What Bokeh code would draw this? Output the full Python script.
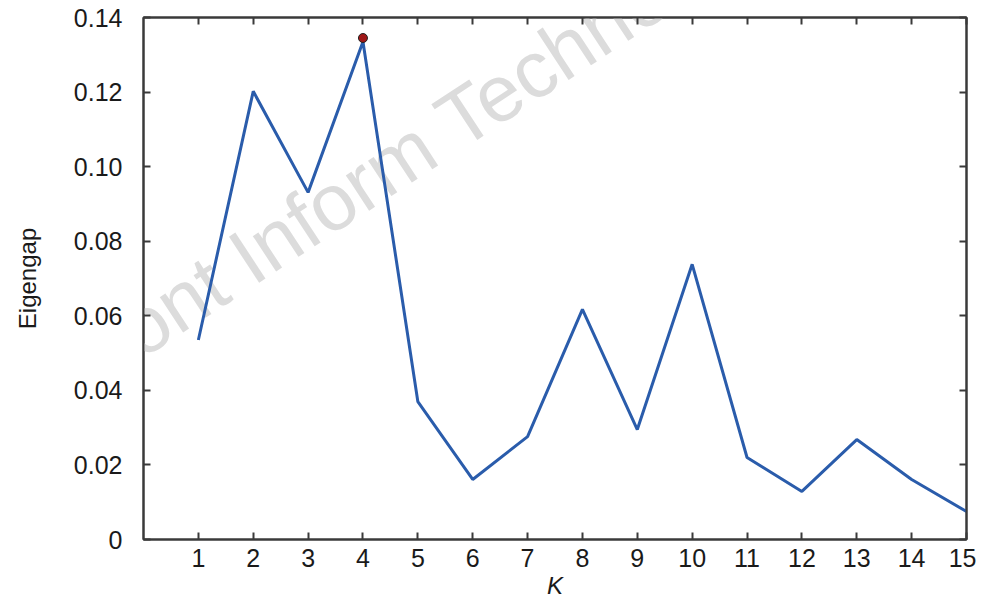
from bokeh.plotting import figure
from bokeh.models import FixedTicker, LinearAxis, Range1d, CustomLabelingPolicy, Label
from bokeh.embed import file_html
from bokeh.resources import INLINE

k_values = [1, 2, 3, 4, 5, 6, 7, 8, 9, 10, 11, 12, 13, 14, 15]
eigengap = [0.0535, 0.1202, 0.0931, 0.1335, 0.0370, 0.0161, 0.0276, 0.0617,
            0.0295, 0.0738, 0.0220, 0.0129, 0.0268, 0.0161, 0.0075]
best_k = [4]
best_gap = [0.1345]
y_ticks = [0, 0.02, 0.04, 0.06, 0.08, 0.10, 0.12, 0.14]
y_tick_labels = ["0", "0.02", "0.04", "0.06", "0.08", "0.10", "0.12", "0.14"]

FONT = "Liberation Sans"
AXIS_COLOR = "#3a3a3a"
TEXT_COLOR = "#1a1a1a"

p = figure(width=976, height=601, output_backend="svg", toolbar_location=None,
           x_range=Range1d(0, 15), y_range=Range1d(0, 0.14),
           min_border_left=143, min_border_right=10, min_border_top=17, min_border_bottom=40)
p.xgrid.visible = False
p.ygrid.visible = False
p.outline_line_color = AXIS_COLOR
p.outline_line_width = 2

wm = Label(x=-56, y=124, x_units="screen", y_units="screen",
           text="Front Inform Technol", angle=0.58, text_font=FONT,
           text_font_size="80px", text_color="#dcdcdc", level="underlay")
p.add_layout(wm)

p.line(k_values, eigengap, line_color="#2a5cab", line_width=3)
p.scatter(best_k, best_gap, size=9, fill_color="#a01818", line_color="#222222", line_width=1)

hide_labels = CustomLabelingPolicy(
    code="try { for (let i = 0; i < indices.size; i++) { indices.unset(i) } } catch (e) {} return indices")

def style(ax, labels=True):
    ax.major_tick_in = 7
    ax.major_tick_out = 0
    ax.minor_tick_line_color = None
    ax.axis_line_color = AXIS_COLOR
    ax.axis_line_width = 2
    ax.major_tick_line_color = AXIS_COLOR
    ax.major_tick_line_width = 2
    ax.major_label_text_font = FONT
    ax.major_label_text_font_size = "25px"
    ax.major_label_text_color = TEXT_COLOR
    ax.axis_label_text_font = FONT
    ax.axis_label_text_color = TEXT_COLOR
    ax.axis_label_text_font_style = "normal"
    if not labels:
        ax.major_label_policy = hide_labels
        ax.major_label_text_font_size = "1px"
        ax.major_label_standoff = 0

xa = p.xaxis[0]
style(xa)
xa.ticker = FixedTicker(ticks=k_values)
xa.axis_label = "K"
xa.axis_label_text_font_style = "italic"
xa.axis_label_text_font_size = "24px"
xa.major_label_standoff = 9
xa.axis_label_standoff = 2

ya = p.yaxis[0]
style(ya)
ya.ticker = FixedTicker(ticks=y_ticks)
ya.major_label_overrides = {t: l for t, l in zip(y_ticks, y_tick_labels)}
ya.axis_label = "Eigengap"
ya.axis_label_text_font_size = "24px"
ya.major_label_standoff = 21
ya.axis_label_standoff = 30

top = LinearAxis(ticker=FixedTicker(ticks=k_values))
style(top, labels=False)
p.add_layout(top, "above")
right = LinearAxis(ticker=FixedTicker(ticks=y_ticks))
style(right, labels=False)
p.add_layout(right, "right")

open("out.html", "w").write(file_html(p, INLINE))
